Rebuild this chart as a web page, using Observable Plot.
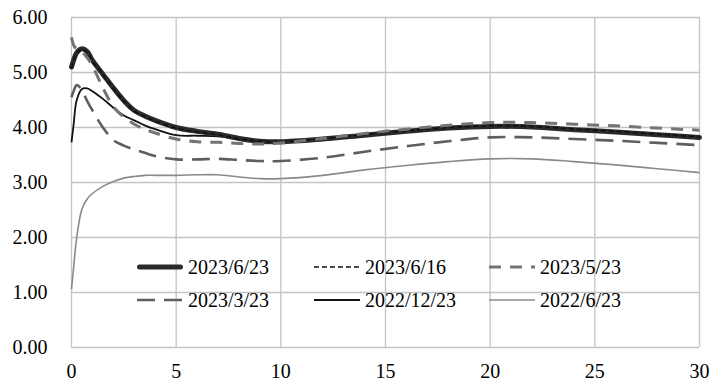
<!DOCTYPE html>
<html>
<head>
<meta charset="utf-8">
<script src="https://cdn.jsdelivr.net/npm/d3@7"></script>
<script src="https://cdn.jsdelivr.net/npm/@observablehq/plot@0.6"></script>
<style>
  html, body { margin: 0; padding: 0; background: #fff; }
  #wrap { position: relative; width: 722px; height: 388px; font-family: "Liberation Serif", "Times New Roman", serif; }
  .leg { position: absolute; display: flex; align-items: center; height: 20px; line-height: 20px; font-size: 20px; color: #000; white-space: nowrap; }
  .leg svg { display: block; }
</style>
</head>
<body>
<div id="wrap"></div>
<script>
// ---- data ----
const tenors = [0, 0.1, 0.25, 0.5, 0.75, 1, 1.5, 2, 2.5, 3, 3.5, 4, 5, 6, 7, 8, 9, 10, 12, 14, 16, 18, 20, 22, 24, 26, 28, 30];
const y20230623 = [5.10, 5.22, 5.36, 5.43, 5.38, 5.22, 4.97, 4.72, 4.49, 4.31, 4.21, 4.13, 4.00, 3.93, 3.88, 3.80, 3.75, 3.74, 3.79, 3.86, 3.93, 3.99, 4.02, 4.01, 3.96, 3.92, 3.87, 3.82];
const y20230616 = [5.08, 5.21, 5.35, 5.42, 5.37, 5.21, 4.96, 4.71, 4.48, 4.30, 4.20, 4.12, 3.99, 3.92, 3.87, 3.79, 3.75, 3.74, 3.80, 3.87, 3.94, 4.00, 4.03, 4.02, 3.97, 3.93, 3.88, 3.83];
const y20230523 = [5.64, 5.50, 5.42, 5.38, 5.27, 5.12, 4.72, 4.38, 4.19, 4.06, 3.97, 3.90, 3.79, 3.74, 3.73, 3.71, 3.70, 3.72, 3.80, 3.89, 3.97, 4.04, 4.09, 4.09, 4.06, 4.03, 3.99, 3.95];
const y20230323 = [4.55, 4.66, 4.77, 4.68, 4.48, 4.31, 4.00, 3.77, 3.67, 3.60, 3.54, 3.48, 3.42, 3.42, 3.43, 3.41, 3.39, 3.39, 3.45, 3.56, 3.66, 3.75, 3.82, 3.82, 3.79, 3.76, 3.72, 3.68];
const y20221223 = [3.73, 4.05, 4.50, 4.70, 4.71, 4.66, 4.52, 4.36, 4.22, 4.13, 4.04, 3.97, 3.86, 3.85, 3.84, 3.79, 3.75, 3.74, 3.79, 3.86, 3.93, 3.99, 4.02, 4.01, 3.96, 3.92, 3.87, 3.82];
const y20220623 = [1.06, 1.45, 2.00, 2.52, 2.70, 2.80, 2.93, 3.02, 3.08, 3.11, 3.13, 3.13, 3.13, 3.14, 3.14, 3.10, 3.07, 3.07, 3.13, 3.23, 3.31, 3.38, 3.43, 3.43, 3.38, 3.32, 3.25, 3.18];
const seriesNames = ["2023/6/23", "2023/6/16", "2023/5/23", "2023/3/23", "2022/12/23", "2022/6/23"];
const seriesValues = [y20230623, y20230616, y20230523, y20230323, y20221223, y20220623];
const xTicks = [0, 5, 10, 15, 20, 25, 30];
const yTicks = [0, 1, 2, 3, 4, 5, 6];

// ---- styles ----
const styles = {
  "2023/6/23": {stroke: "#2a2a2a", strokeWidth: 5, dash: null},
  "2023/6/16": {stroke: "#111111", strokeWidth: 1.6, dash: "5,3"},
  "2023/5/23": {stroke: "#747474", strokeWidth: 3, dash: "12,9"},
  "2023/3/23": {stroke: "#5e5e5e", strokeWidth: 2.6, dash: "18,9"},
  "2022/12/23": {stroke: "#111111", strokeWidth: 1.8, dash: null},
  "2022/6/23": {stroke: "#8a8a8a", strokeWidth: 1.6, dash: null}
};
const drawOrder = ["2022/6/23", "2023/3/23", "2022/12/23", "2023/6/23", "2023/6/16", "2023/5/23"];

const rows = seriesNames.map((name, i) => tenors.map((t, j) => ({series: name, t, v: seriesValues[i][j]})));
const bySeries = Object.fromEntries(seriesNames.map((n, i) => [n, rows[i]]));

const font = '"Liberation Serif", "Times New Roman", serif';
const grid = {stroke: "#c4c4c4", strokeOpacity: 1, strokeWidth: 1.3};

const chart = Plot.plot({
  width: 722,
  height: 388,
  marginLeft: 71,
  marginRight: 23,
  marginTop: 17,
  marginBottom: 41,
  style: {fontFamily: font, fontSize: "20px", color: "#000", background: "#fff", overflow: "visible"},
  x: {domain: [0, 30], ticks: xTicks},
  y: {domain: [0, 6], ticks: yTicks},
  marks: [
    Plot.gridX(xTicks, grid),
    Plot.gridY(yTicks, grid),
    Plot.axisX(xTicks, {tickSize: 0, tickPadding: 16, fontSize: 20, tickFormat: d => String(d), label: null}),
    Plot.axisY(yTicks, {tickSize: 0, tickPadding: 24, fontSize: 20, tickFormat: d3.format(".2f"), label: null}),
    ...drawOrder.map(name => Plot.line(bySeries[name], {
      x: "t", y: "v",
      stroke: styles[name].stroke,
      strokeWidth: styles[name].strokeWidth,
      strokeDasharray: styles[name].dash || undefined,
      strokeLinecap: name === "2023/6/23" ? "round" : "butt",
      strokeLinejoin: "round",
      curve: "catmull-rom"
    }))
  ]
});

const wrap = document.getElementById("wrap");
wrap.appendChild(chart);

// ---- legend (inside plot area, two rows of three) ----
const legendCols = [137, 314, 489];
const legendRows = [257, 290];
const swatchW = 46;
seriesNames.forEach((name, i) => {
  const col = i % 3, row = Math.floor(i / 3);
  const st = styles[name];
  const div = document.createElement("div");
  div.className = "leg";
  div.style.left = legendCols[col] + "px";
  div.style.top = legendRows[row] + "px";
  const ns = "http://www.w3.org/2000/svg";
  const svg = document.createElementNS(ns, "svg");
  svg.setAttribute("width", swatchW + 5);
  svg.setAttribute("height", 20);
  const ln = document.createElementNS(ns, "line");
  const pad = name === "2023/6/23" ? 2.5 : 0;
  ln.setAttribute("x1", pad);
  ln.setAttribute("x2", swatchW - pad);
  ln.setAttribute("y1", 10);
  ln.setAttribute("y2", 10);
  ln.setAttribute("stroke", st.stroke);
  ln.setAttribute("stroke-width", st.strokeWidth);
  if (name === "2023/6/23") ln.setAttribute("stroke-linecap", "round");
  if (st.dash) ln.setAttribute("stroke-dasharray", st.dash);
  svg.appendChild(ln);
  div.appendChild(svg);
  const span = document.createElement("span");
  span.textContent = name;
  div.appendChild(span);
  wrap.appendChild(div);
});
</script>
</body>
</html>
